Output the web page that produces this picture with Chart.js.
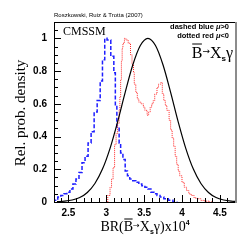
<!DOCTYPE html>
<html>
<head>
<meta charset="utf-8">
<script src="https://cdn.jsdelivr.net/npm/chart.js@4/dist/chart.umd.min.js"></script>
<style>
    html, body { margin: 0; padding: 0; background: #fff; }
    canvas { display: block; }
</style>
</head>
<body>
<canvas id="chartBsg" width="249" height="249"></canvas>
<script>
/* ============================================================
   DATOS
============================================================ */
const xTicks = [2.5, 3, 3.5, 4, 4.5];
const yTicks = [0, 0.2, 0.4, 0.6, 0.8, 1];

// mu > 0 (azul discontinuo), borde izquierdo de cada bin
const azulX = [2.31, 2.36, 2.40, 2.44, 2.48, 2.52, 2.56, 2.60, 2.64, 2.68, 2.72, 2.76, 2.80, 2.84, 2.88,
               2.92, 2.95, 2.98, 3.01, 3.06, 3.10, 3.12, 3.14, 3.17, 3.19, 3.22, 3.25, 3.28, 3.31, 3.35,
               3.39, 3.43, 3.47, 3.51, 3.55, 3.59, 3.63, 3.67, 3.71, 3.76, 3.82, 3.88, 3.94];
const azulY = [0.00, 0.01, 0.03, 0.04, 0.05, 0.06, 0.08, 0.11, 0.14, 0.18, 0.24, 0.28, 0.36, 0.43, 0.55,
               0.62, 0.74, 0.87, 1.00, 0.99, 0.89, 0.79, 0.59, 0.45, 0.36, 0.30, 0.26, 0.19, 0.16, 0.14,
               0.13, 0.12, 0.11, 0.10, 0.09, 0.08, 0.06, 0.05, 0.04, 0.03, 0.02, 0.01, 0.00];

// mu < 0 (rojo punteado)
const rojoX = [3.02, 3.05, 3.07, 3.09, 3.11, 3.13, 3.15, 3.17, 3.18, 3.19, 3.20, 3.21, 3.22, 3.24, 3.26,
               3.29, 3.32, 3.34, 3.36, 3.37, 3.39, 3.41, 3.43, 3.46, 3.49, 3.51, 3.54, 3.56, 3.58, 3.60,
               3.62, 3.64, 3.67, 3.69, 3.72, 3.74, 3.76, 3.78, 3.80, 3.83, 3.85, 3.87, 3.89, 3.91, 3.93,
               3.95, 3.97, 4.00, 4.03, 4.06, 4.09, 4.12, 4.16, 4.20, 4.25, 4.30, 4.36, 4.40];
const rojoY = [0.00, 0.04, 0.09, 0.14, 0.21, 0.35, 0.42, 0.48, 0.56, 0.64, 0.75, 0.86, 0.94, 0.97, 1.00,
               0.99, 0.97, 0.90, 0.84, 0.79, 0.72, 0.67, 0.63, 0.61, 0.60, 0.58, 0.56, 0.53, 0.55, 0.58,
               0.60, 0.62, 0.66, 0.70, 0.72, 0.73, 0.66, 0.62, 0.59, 0.56, 0.50, 0.44, 0.39, 0.34, 0.28,
               0.23, 0.19, 0.16, 0.12, 0.09, 0.07, 0.05, 0.04, 0.025, 0.02, 0.01, 0.005, 0.00];

// curva experimental (negra)
const expX = [2.35, 2.45, 2.55, 2.65, 2.75, 2.85, 2.95, 3.05, 3.15, 3.25, 3.35, 3.45, 3.55,
              3.65, 3.75, 3.85, 3.95, 4.05, 4.15, 4.25, 4.35, 4.45, 4.55, 4.65, 4.75];
const expY = [0.002, 0.005, 0.012, 0.027, 0.058, 0.113, 0.201, 0.328, 0.490, 0.670, 0.837, 0.956, 1.000,
              0.956, 0.837, 0.670, 0.490, 0.328, 0.201, 0.113, 0.058, 0.027, 0.012, 0.005, 0.002];

const pares = (xs, ys) => xs.map((x, i) => ({ x: x, y: ys[i] }));

/* ============================================================
   TEXTO CON SUB/SUPERÍNDICES
============================================================ */
function textoRico(ctx, partes, x, y, align) {
    let ancho = 0;
    partes.forEach(p => { ctx.font = p.font; ancho += ctx.measureText(p.t).width; });
    let cx = align === "right" ? x - ancho : align === "center" ? x - ancho / 2 : x;
    ctx.textAlign = "left";
    ctx.textBaseline = "alphabetic";
    partes.forEach(p => {
        ctx.font = p.font;
        const w = ctx.measureText(p.t).width;
        ctx.fillText(p.t, cx, y + (p.dy || 0));
        if (p.barra) {
            ctx.beginPath();
            ctx.lineWidth = 1;
            ctx.moveTo(cx + 0.5, y - p.barra);
            ctx.lineTo(cx + w - 0.5, y - p.barra);
            ctx.stroke();
        }
        cx += w;
    });
}

/* ============================================================
   PLUGIN: marco, ticks interiores y rótulos
============================================================ */
const decoracion = {
    id: "decoracion",
    afterDatasetsDraw(chart) {
        const ctx = chart.ctx;
        const a = chart.chartArea;
        const sx = chart.scales.x, sy = chart.scales.y;
        ctx.save();
        ctx.strokeStyle = "#000";
        ctx.fillStyle = "#000";

        // ticks interiores
        ctx.lineWidth = 1;
        ctx.beginPath();
        for (let i = 0; i <= 22; i++) {
            const v = i * 0.05;
            const py = Math.round(sy.getPixelForValue(v)) + 0.5;
            const largo = (i % 4 === 0) ? 7 : 4;
            ctx.moveTo(a.left, py);
            ctx.lineTo(a.left + largo, py);
        }
        for (let i = 24; i <= 47; i++) {
            const v = i / 10;
            const px = Math.round(sx.getPixelForValue(v)) + 0.5;
            const largo = (i % 5 === 0) ? 7 : 4;
            ctx.moveTo(px, a.bottom);
            ctx.lineTo(px, a.bottom - largo);
        }
        ctx.stroke();

        // marco
        ctx.beginPath();
        ctx.moveTo(a.right, a.top + 0.5);
        ctx.lineTo(a.left + 0.5, a.top + 0.5);
        ctx.lineTo(a.left + 0.5, a.bottom + 0.5);
        ctx.lineTo(a.right, a.bottom + 0.5);
        ctx.stroke();
        ctx.strokeStyle = "#8c8c8c";
        ctx.lineWidth = 2;
        ctx.beginPath();
        ctx.moveTo(a.right + 1, a.top);
        ctx.lineTo(a.right + 1, a.bottom + 1);
        ctx.stroke();
        ctx.strokeStyle = "#000";

        // rótulos
        ctx.font = "6px 'Liberation Sans'";
        ctx.textAlign = "left";
        ctx.fillText("Roszkowski, Ruiz & Trotta (2007)", 54, 17);

        ctx.font = "12px 'Liberation Serif'";
        ctx.fillText("CMSSM", 63, 35);

        textoRico(ctx, [
            { t: "dashed blue ", font: "bold 7.5px 'Liberation Sans'" },
            { t: "\u03bc", font: "italic bold 7.5px 'Liberation Sans'" },
            { t: ">0", font: "bold 7.5px 'Liberation Sans'" }
        ], 229, 29, "right");
        textoRico(ctx, [
            { t: "dotted red ", font: "bold 7.5px 'Liberation Sans'" },
            { t: "\u03bc", font: "italic bold 7.5px 'Liberation Sans'" },
            { t: "<0", font: "bold 7.5px 'Liberation Sans'" }
        ], 229, 38, "right");

        textoRico(ctx, [
            { t: "B", font: "16px 'Liberation Serif'", barra: 14 },
            { t: "\u2192", font: "9px 'DejaVu Sans'", dy: -4 },
            { t: "X", font: "16px 'Liberation Serif'" },
            { t: "s", font: "bold 8px 'Liberation Sans'", dy: 3 },
            { t: "\u03b3", font: "16px 'Liberation Serif'" }
        ], 233, 58, "right");

        // título eje X
        textoRico(ctx, [
            { t: "BR(", font: "14px 'Liberation Serif'" },
            { t: "B", font: "14px 'Liberation Serif'", barra: 12 },
            { t: "\u2192", font: "8px 'DejaVu Sans'", dy: -3 },
            { t: "X", font: "14px 'Liberation Serif'" },
            { t: "s", font: "bold 7px 'Liberation Sans'", dy: 3 },
            { t: "\u03b3)x10", font: "14px 'Liberation Serif'" },
            { t: "4", font: "bold 7px 'Liberation Sans'", dy: -6 }
        ], 145, 231, "center");

        // título eje Y
        ctx.save();
        ctx.translate(25, 113);
        ctx.rotate(-Math.PI / 2);
        ctx.font = "15px 'Liberation Serif'";
        ctx.textAlign = "center";
        ctx.textBaseline = "alphabetic";
        ctx.fillText("Rel. prob. density", 0, 0);
        ctx.restore();

        ctx.restore();
    }
};

/* ============================================================
   GRÁFICO
============================================================ */
const ctx = document.getElementById("chartBsg");
new Chart(ctx, {
    type: "scatter",
    data: {
        datasets: [
            {
                label: "exp",
                data: pares(expX, expY),
                showLine: true,
                borderColor: "#000",
                borderWidth: 1.2,
                pointRadius: 0,
                cubicInterpolationMode: "monotone"
            },
            {
                label: "mu<0",
                data: pares(rojoX, rojoY),
                showLine: true,
                stepped: "after",
                borderColor: "rgb(255,40,40)",
                borderWidth: 1,
                borderDash: [1, 1],
                pointRadius: 0
            },
            {
                label: "mu>0",
                data: pares(azulX, azulY),
                showLine: true,
                stepped: "after",
                borderColor: "rgb(30,30,255)",
                borderWidth: 1.5,
                borderDash: [4, 2],
                pointRadius: 0
            }
        ]
    },
    options: {
        responsive: false,
        animation: false,
        layout: { padding: { top: 22, right: 14, left: 0, bottom: 0 } },
        plugins: { legend: { display: false }, tooltip: { enabled: false } },
        scales: {
            x: {
                type: "linear",
                min: 2.31,
                max: 4.7,
                afterBuildTicks: s => { s.ticks = xTicks.map(v => ({ value: v })); },
                afterFit: s => { s.height = 47; },
                grid: { display: false, drawTicks: false },
                border: { display: false },
                ticks: {
                    color: "#000",
                    padding: 5,
                    maxRotation: 0,
                    font: { family: "'Liberation Sans'", size: 10, weight: "bold" },
                    callback: v => String(v)
                }
            },
            y: {
                type: "linear",
                min: 0,
                max: 1.1,
                afterBuildTicks: s => { s.ticks = yTicks.map(v => ({ value: v })); },
                afterFit: s => { s.width = 54; },
                grid: { display: false, drawTicks: false },
                border: { display: false },
                ticks: {
                    color: "#000",
                    padding: 7,
                    font: { family: "'Liberation Sans'", size: 10, weight: "bold" },
                    callback: v => String(v)
                }
            }
        }
    },
    plugins: [decoracion]
});
</script>
</body>
</html>
